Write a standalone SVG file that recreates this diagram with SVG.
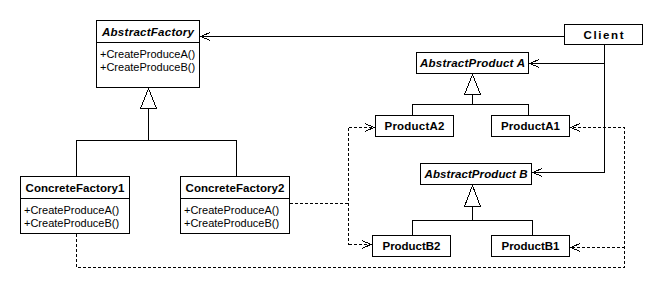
<svg xmlns="http://www.w3.org/2000/svg" width="663" height="289" viewBox="0 0 663 289">
  <style>
    .box { fill: #ffffff; stroke: #000000; stroke-width: 1; }
    .line { fill: none; stroke: #000000; stroke-width: 1; }
    .dash { fill: none; stroke: #000000; stroke-width: 1; stroke-dasharray: 3 2; }
    .tri { fill: #ffffff; stroke: #000000; stroke-width: 1; }
    .head { fill: none; stroke: #000000; stroke-width: 1; }
    .title { font-family: "Liberation Sans", Arial, sans-serif; font-size: 11.5px; font-weight: bold; text-anchor: middle; fill: #000; }
    .abstract { font-style: italic; }
    .op { font-family: "Liberation Sans", Arial, sans-serif; font-size: 11px; fill: #000; }
  </style>
  <rect width="663" height="289" fill="#ffffff"/>

  <!-- connectors -->
  <g id="connectors" shape-rendering="crispEdges">
    <!-- Client associations -->
    <path class="line" d="M564.5 36.5 H201"/>
    <path class="head" d="M210 32.5 L201 36.5 L210 40.5"/>
    <path class="line" d="M604.5 44.5 V172.5"/>
    <path class="line" d="M604.5 63.5 H530"/>
    <path class="head" d="M539 59.5 L530 63.5 L539 67.5"/>
    <path class="line" d="M604.5 172.5 H533"/>
    <path class="head" d="M542 168.5 L533 172.5 L542 176.5"/>

    <!-- factory inheritance -->
    <polygon class="tri" points="148.5,88.5 140.5,108.5 156.5,108.5"/>
    <path class="line" d="M148.5 108.5 V140.5 M76.5 176.5 V140.5 H236.5 V176.5"/>

    <!-- product A inheritance -->
    <polygon class="tri" points="472.5,74.5 464.5,94.5 480.5,94.5"/>
    <path class="line" d="M472.5 94.5 V104.5 M412.5 115.5 V104.5 H528.5 V115.5"/>

    <!-- product B inheritance -->
    <polygon class="tri" points="472.5,185.5 464.5,206.5 480.5,206.5"/>
    <path class="line" d="M472.5 206.5 V220.5 M412.5 235.5 V220.5 H532.5 V235.5"/>

    <!-- ConcreteFactory2 dependencies -->
    <path class="dash" d="M290 203.5 H348.5 M348.5 127.5 V244.5 M348.5 127.5 H373 M348.5 244.5 H370"/>
    <path class="head" d="M365 123.5 L374 127.5 L365 131.5"/>
    <path class="head" d="M362 240.5 L371 244.5 L362 248.5"/>

    <!-- ConcreteFactory1 dependencies -->
    <path class="dash" d="M76.5 234 V267.5 H624.5 V127.5 H571 M624.5 247.5 H571"/>
    <path class="head" d="M580 123.5 L571 127.5 L580 131.5"/>
    <path class="head" d="M580 243.5 L571 247.5 L580 251.5"/>
  </g>

  <g id="AbstractFactory">
    <rect class="box" x="96.5" y="20.5" width="103" height="67" shape-rendering="crispEdges"/>
    <path class="line" d="M96.5 42.5 H199.5" shape-rendering="crispEdges"/>
    <text class="title abstract" x="148" y="36" textLength="92">AbstractFactory</text>
    <text class="op" x="100" y="58">+CreateProduceA()</text>
    <text class="op" x="100" y="71">+CreateProduceB()</text>
  </g>

  <g id="Client">
    <rect class="box" x="564.5" y="24.5" width="78" height="20" shape-rendering="crispEdges"/>
    <text class="title" x="603.5" y="39" textLength="40">Client</text>
  </g>

  <g id="ConcreteFactory1">
    <rect class="box" x="20.5" y="176.5" width="109" height="57" shape-rendering="crispEdges"/>
    <path class="line" d="M20.5 198.5 H129.5" shape-rendering="crispEdges"/>
    <text class="title" x="75" y="192" textLength="99">ConcreteFactory1</text>
    <text class="op" x="24" y="214">+CreateProduceA()</text>
    <text class="op" x="24" y="227">+CreateProduceB()</text>
  </g>

  <g id="ConcreteFactory2">
    <rect class="box" x="180.5" y="176.5" width="109" height="57" shape-rendering="crispEdges"/>
    <path class="line" d="M180.5 198.5 H289.5" shape-rendering="crispEdges"/>
    <text class="title" x="235" y="192" textLength="99">ConcreteFactory2</text>
    <text class="op" x="184" y="214">+CreateProduceA()</text>
    <text class="op" x="184" y="227">+CreateProduceB()</text>
  </g>

  <g id="AbstractProductA">
    <rect class="box" x="416.5" y="52.5" width="112" height="21" shape-rendering="crispEdges"/>
    <text class="title abstract" x="472.5" y="67" textLength="105">AbstractProduct A</text>
  </g>

  <g id="ProductA2">
    <rect class="box" x="375.5" y="115.5" width="78" height="21" shape-rendering="crispEdges"/>
    <text class="title" x="414.5" y="130" textLength="60">ProductA2</text>
  </g>

  <g id="ProductA1">
    <rect class="box" x="491.5" y="115.5" width="78" height="21" shape-rendering="crispEdges"/>
    <text class="title" x="530.5" y="130" textLength="59">ProductA1</text>
  </g>

  <g id="AbstractProductB">
    <rect class="box" x="420.5" y="163.5" width="111" height="21" shape-rendering="crispEdges"/>
    <text class="title abstract" x="476" y="178" textLength="103">AbstractProduct B</text>
  </g>

  <g id="ProductB2">
    <rect class="box" x="372.5" y="235.5" width="78" height="21" shape-rendering="crispEdges"/>
    <text class="title" x="411.5" y="250" textLength="58">ProductB2</text>
  </g>

  <g id="ProductB1">
    <rect class="box" x="491.5" y="235.5" width="78" height="21" shape-rendering="crispEdges"/>
    <text class="title" x="530.5" y="250" textLength="58">ProductB1</text>
  </g>
</svg>
